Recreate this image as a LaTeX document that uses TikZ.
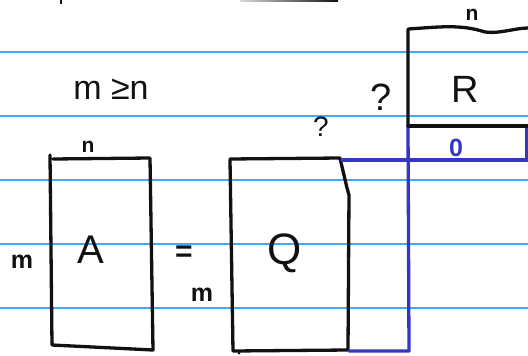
\documentclass[tikz,border=0pt]{standalone}
\usepackage{fontspec}
\setmainfont{Liberation Sans}
\definecolor{rule}{HTML}{3FA9F5}
\definecolor{ink}{HTML}{111111}
\definecolor{pen}{HTML}{3535C8}
\begin{document}
\begin{tikzpicture}[x=1pt,y=-1pt,
  ruled/.style={draw=rule,line width=1.4pt},
  blk/.style={draw=ink,line width=3.3pt,line cap=round,line join=round},
  blu/.style={draw=pen,line width=3.3pt,line cap=round,line join=round},
  lbl/.style={inner sep=0pt,text=ink}]
\useasboundingbox (0,0) rectangle (528,356);
% ruled paper lines
\foreach \yy in {52,116,180,244,308}
  \draw[ruled] (0,\yy) -- (528,\yy);
% stray marks at top
\draw[ink,line width=2pt] (61,0) -- (61,4);
\shade[left color=gray!30,right color=ink] (240,0) rectangle (338,1.5);
% A matrix
\draw[blk] (50,155) -- (52,345) -- (153,350) -- (150,158) -- (53,159);
\node[lbl,font=\bfseries\fontsize{21}{21}\selectfont] (nA) at (88,147) {n};
\node[lbl,font=\fontsize{40}{40}\selectfont] (A) at (91,250) {A};
\node[lbl,font=\bfseries\fontsize{25}{25}\selectfont] (mA) at (22,262) {m};
% equals and m
\node[lbl,font=\bfseries\fontsize{30}{30}\selectfont] (eq) at (184,254) {=};
\node[lbl,font=\bfseries\fontsize{25}{25}\selectfont] (mQ) at (202,295) {m};
% Q matrix
\draw[blk] (230,160) -- (233,351) -- (348,350) -- (349,195) -- (347,188) -- (340,158) -- (230,159);
\fill[ink] (239,353) circle (1.5);
\node[lbl,font=\fontsize{44}{44}\selectfont] (Q) at (285,253) {Q};
% blue extension of Q and zero block
\draw[blu] (342,160) -- (528,160);
\draw[blu] (408,125) -- (409,351) -- (349,351);
\draw[blu] (527,126) -- (527,160);
\node[lbl,text=pen,font=\bfseries\fontsize{25}{25}\selectfont] (zero) at (456,148) {0};
% R matrix
\draw[blk] (408,125) -- (408,29) .. controls (440,27) and (460,24) .. (485,32) .. controls (500,34) and (515,28) .. (528,28);
\draw[blk] (408,126) -- (528,126);
\node[lbl,font=\bfseries\fontsize{21}{21}\selectfont] (nR) at (472,15) {n};
\node[lbl,font=\fontsize{38}{38}\selectfont] (R) at (465,89) {R};
% condition
\node[lbl,font=\fontsize{34}{34}\selectfont] (cond) at (111,89) {m ≥n};
% question marks
\node[lbl,font=\fontsize{28}{28}\selectfont] (q1) at (321,127) {?};
\node[lbl,font=\fontsize{38}{38}\selectfont] (q2) at (381,97) {?};
\end{tikzpicture}
\end{document}
